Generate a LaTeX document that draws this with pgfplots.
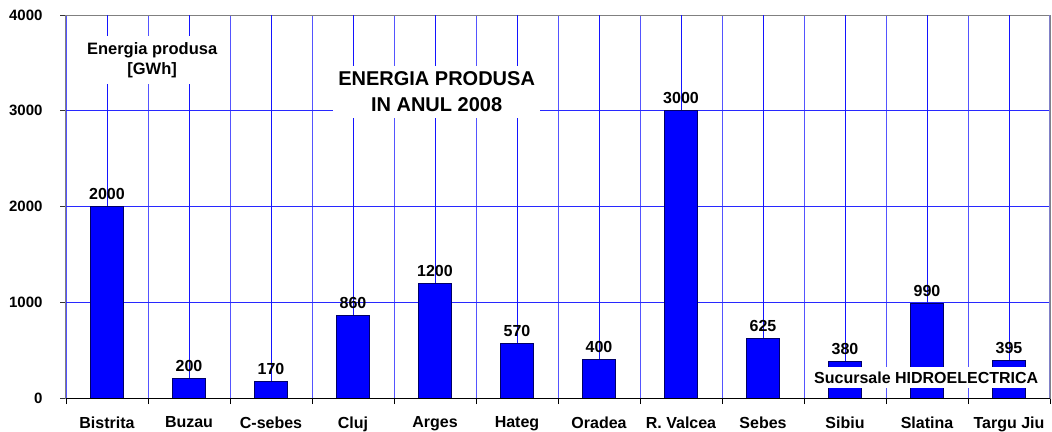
\documentclass[border=0pt]{standalone}
\usepackage{fontspec}
\setmainfont{Liberation Sans}
\usepackage{pgfplots}
\pgfplotsset{compat=1.18}
\usetikzlibrary{calc}
\definecolor{barblue}{RGB}{0,0,255}
\definecolor{gridblue}{RGB}{40,40,255}
\definecolor{centerblue}{RGB}{20,20,255}
\definecolor{axgray}{RGB}{128,128,128}
\definecolor{rightedge}{RGB}{128,128,200}
\begin{document}
\begin{tikzpicture}
\begin{axis}[name=ax,
  scale only axis, width=984pt, height=383pt,
  xmin=-0.5, xmax=11.5, ymin=0, ymax=4000,
  ybar, bar width=33pt,
  ytick={0,1000,2000,3000,4000},
  xtick={0,...,11},
  xticklabels={Bistrita,Buzau,C-sebes,Cluj,Arges,Hateg,Oradea,R. Valcea,Sebes,Sibiu,Slatina,Targu Jiu},
  minor xtick={-0.5,0.5,...,11.5},
  xtick pos=bottom, ytick pos=left,
  tick align=outside,
  major tick length=6pt, minor tick length=6pt,
  major x tick style={draw=none},
  minor x tick style={draw=black, line width=0.9pt},
  major y tick style={draw=black!80, line width=0.8pt},
  ymajorgrids, xminorgrids,
  major grid style={draw=gridblue, line width=0.9pt},
  minor grid style={draw=gridblue!80, line width=0.9pt},
  axis line style={draw=axgray, line width=1pt},
  /pgf/number format/.cd, 1000 sep={}, assume math mode=true, /pgfplots/.cd,
  yticklabel style={font=\fontsize{15}{17}\selectfont\bfseries, xshift=-14pt},
  xticklabel style={font=\fontsize{16}{18}\selectfont\bfseries, yshift=-9pt},
  nodes near coords,
  nodes near coords style={font=\fontsize{16}{18}\selectfont\bfseries, anchor=south, yshift=3pt},
]
\pgfplotsinvokeforeach{0,...,11}{
  \draw[centerblue, line width=0.8pt] (axis cs:#1,0) -- (axis cs:#1,4000);
}
\addplot[fill=barblue, draw=black!60!blue, line width=0.8pt] coordinates {
  (0,2000) (1,200) (2,170) (3,860) (4,1200) (5,570)
  (6,400) (7,3000) (8,625) (9,380) (10,990) (11,395)
};
\draw[black, line width=1pt] (rel axis cs:0,0) -- (rel axis cs:1,0);
\draw[rightedge, line width=2pt] (rel axis cs:1,0) -- (rel axis cs:1,1);
\node[fill=white, align=center, inner xsep=5pt, inner ysep=6pt,
      font=\fontsize{20}{26}\selectfont\bfseries] at (axis cs:4.02,3200)
  {ENERGIA PRODUSA\\IN ANUL 2008};
\node[fill=white, align=center, inner xsep=4pt, inner ysep=6pt,
      font=\fontsize{16.5}{20}\selectfont\bfseries] at (axis cs:0.55,3530)
  {Energia produsa\\{[GWh]}};
\node[fill=white, inner xsep=3pt, inner ysep=5pt,
      font=\fontsize{16}{19}\selectfont\bfseries] at (axis cs:9.99,214)
  {Sucursale HIDROELECTRICA};
\end{axis}
\pgfresetboundingbox
\path ($(ax.south west)+(-66pt,-33pt)$) rectangle ($(ax.north east)+(2pt,15pt)$);
\end{tikzpicture}
\end{document}
